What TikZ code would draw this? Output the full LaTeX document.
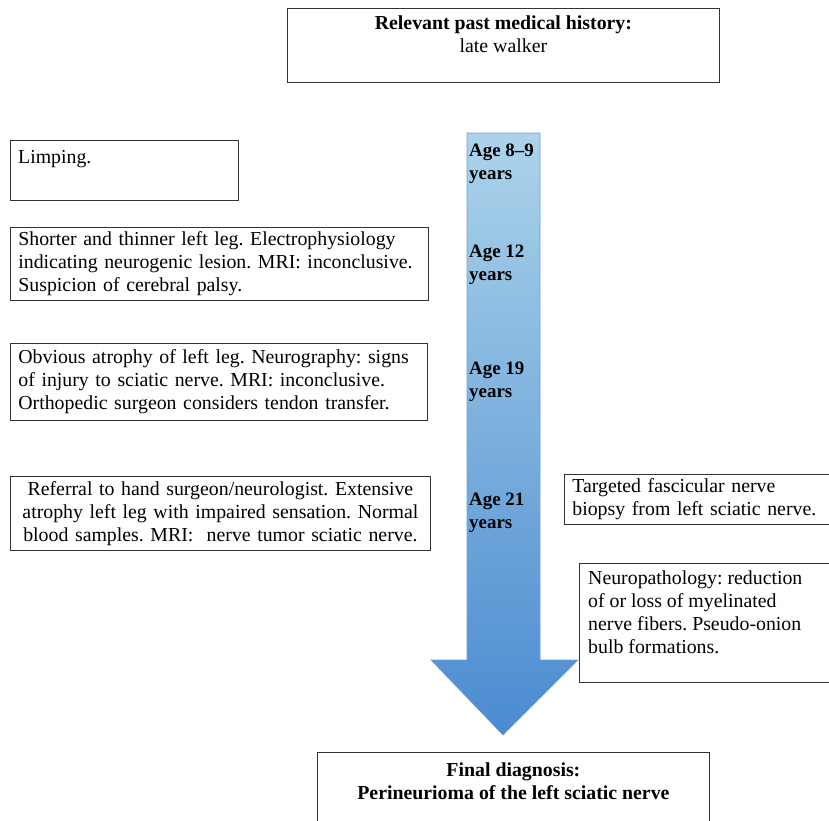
\documentclass[tikz,border=0pt]{standalone}
\usepackage{fontspec}
\setmainfont{Liberation Serif}
\usetikzlibrary{positioning}

\definecolor{shaftTop}{HTML}{ACD3EA}
\definecolor{shaftBot}{HTML}{4A8BD0}
\definecolor{shaftLine}{HTML}{6E9FD2}
\newcommand{\tlfont}{\fontsize{19.9}{23}\selectfont\frenchspacing}
\newcommand{\agefont}{\fontsize{19}{23}\selectfont\bfseries}

\tikzset{
  box/.style={draw=black!80, line width=0.8pt, rectangle, inner xsep=8bp, inner ysep=4bp, font=\tlfont},
  txt/.style={inner sep=0pt, align=left, font=\tlfont},
  age/.style={inner sep=0pt, align=left, font=\agefont},
}

\begin{document}
\begin{tikzpicture}[x=1bp, y=-1bp]
\useasboundingbox (0,0) rectangle (829,821);

% timeline arrow
\path[top color=shaftTop, bottom color=shaftBot, draw=shaftLine, line width=0.6pt]
  (467,133) -- (540,133) -- (540,660) -- (578,660) -- (503,735)
  -- (431,660) -- (467,660) -- cycle;

% ages along the arrow
\foreach \yy/\lab/\nm in {164/8--9/a, 265/12/b, 382/19/c, 513/21/d} {
  \node[age, anchor=west] (age\nm) at (469,\yy) {Age \lab\\years};
}

% past history
\node[box, minimum width=432bp, minimum height=74bp, anchor=north west] (hist) at (287,8) {};
\node[txt, align=center, anchor=north] (histT) at ([yshift=-8bp]hist.north)
  {\textbf{Relevant past medical history:}\\late walker};

% left column
\node[box, minimum width=228bp, minimum height=60bp, anchor=north west] (limp) at (10,140) {};
\node[txt, anchor=north west] (limpT) at ([xshift=8bp, yshift=-10bp]limp.north west) {Limping.};

\node[box, text width=402bp, minimum height=73bp, align=left, anchor=north west] (leg) at (10,227)
  {Shorter and thinner left leg. Electrophysiology\\
   indicating neurogenic lesion. MRI: inconclusive.\\
   Suspicion of cerebral palsy.};

\node[box, text width=401bp, minimum height=77bp, align=left, anchor=north west] (atro) at (10,343)
  {Obvious atrophy of left leg. Neurography: signs\\
   of injury to sciatic nerve. MRI: inconclusive.\\
   Orthopedic surgeon considers tendon transfer.};

\node[box, text width=404bp, minimum height=74bp, align=center, anchor=north west] (refer) at (10,476)
  {Referral to hand surgeon/neurologist. Extensive\\
   atrophy left leg with impaired sensation. Normal\\
   blood samples. MRI:~ nerve tumor sciatic nerve.};

% right column
\node[box, text width=262bp, minimum height=50bp, align=left, anchor=north west] (biop) at (564,474)
  {Targeted fascicular nerve\\biopsy from left sciatic nerve.};

\node[box, minimum width=262bp, minimum height=119bp, anchor=north west] (patho) at (579,563) {};
\node[txt, anchor=north west] (pathoT) at ([xshift=9bp, yshift=-8bp]patho.north west)
  {Neuropathology: reduction\\of or loss of myelinated\\nerve fibers. Pseudo-onion\\bulb formations.};

% final diagnosis
\node[box, minimum width=392bp, minimum height=80bp, anchor=north west] (diag) at (317,752) {};
\node[txt, align=center, anchor=north, font=\tlfont\bfseries] (diagT) at ([yshift=-11bp]diag.north)
  {Final diagnosis:\\Perineurioma of the left sciatic nerve};
\end{tikzpicture}
\end{document}
